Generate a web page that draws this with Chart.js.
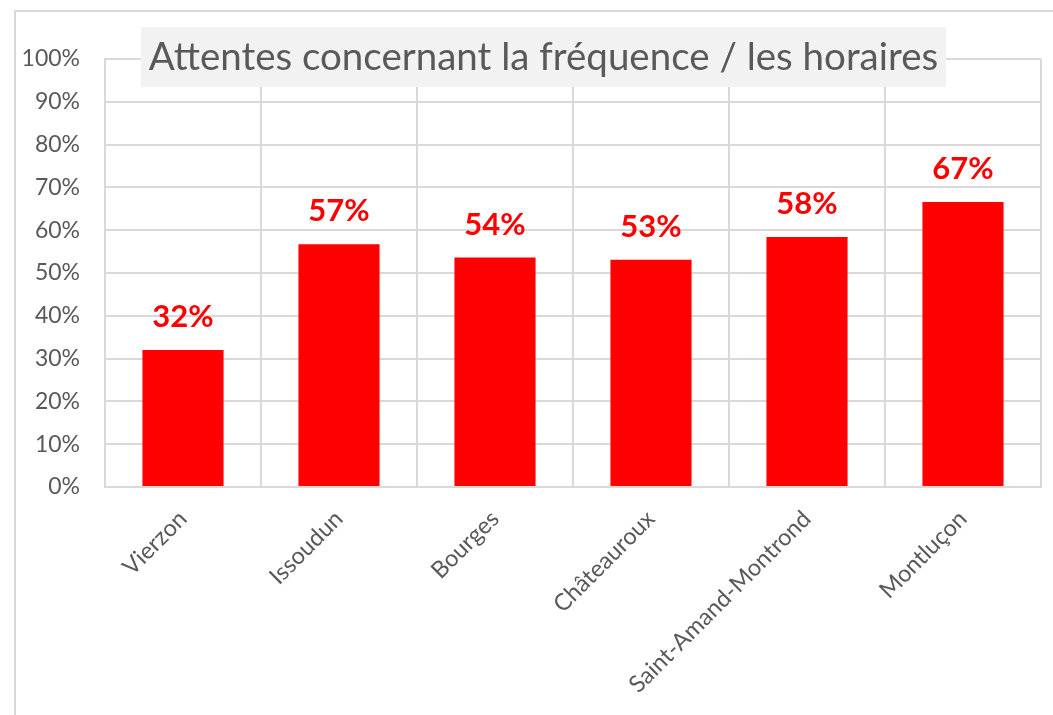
<!DOCTYPE html>
<html>
<head>
<meta charset="utf-8">
<script src="https://cdn.jsdelivr.net/npm/chart.js@4"></script>
<style>
  html, body { margin: 0; padding: 0; background: #fff; overflow: hidden; }
  #wrap { position: relative; width: 1053px; height: 715px; }
  #frame { position: absolute; left: 14px; top: 10px; width: 1100px; height: 800px;
           border-left: 2px solid #d9d9d9; border-top: 2px solid #d9d9d9; box-sizing: border-box; }
  canvas { position: absolute; left: 0; top: 0; }
</style>
</head>
<body>
<div id="wrap">
  <div id="frame"></div>
  <canvas id="chart-1" width="1053" height="715"></canvas>
</div>
<script>
const titleText = "Attentes concernant la fréquence / les horaires";
const villes = ["Vierzon", "Issoudun", "Bourges", "Châteauroux", "Saint-Amand-Montrond", "Montluçon"];
const valeurs = [32.0, 56.7, 53.6, 53.1, 58.4, 66.6];
const yTicks = [0, 10, 20, 30, 40, 50, 60, 70, 80, 90, 100];

const grey = "#595959";
const gridGrey = "#d9d9d9";

// title box sits on top of the grid, under the bars
const titleBox = {
  id: "titleBox",
  beforeDatasetsDraw(chart) {
    const c = chart.ctx;
    c.save();
    c.fillStyle = "#f2f2f2";
    c.fillRect(141, 27, 805, 60);
    c.fillStyle = grey;
    c.font = "38.5px Lato";
    c.textAlign = "center";
    c.textBaseline = "middle";
    c.fillText(titleText, 543.5, 58);
    c.restore();
  }
};

// percentage labels above each bar
const barLabels = {
  id: "barLabels",
  afterDatasetsDraw(chart) {
    const c = chart.ctx;
    const meta = chart.getDatasetMeta(0);
    c.save();
    c.fillStyle = "#ff0000";
    c.font = "bold 31px Lato";
    c.textAlign = "center";
    c.textBaseline = "middle";
    meta.data.forEach((bar, i) => {
      c.fillText(Math.round(valeurs[i]) + "%", bar.x, bar.y - 33);
    });
    c.restore();
  }
};

const ctx1 = document.getElementById("chart-1").getContext("2d");
const myChart = new Chart(ctx1, {
  type: "bar",
  data: {
    labels: villes,
    datasets: [
      {
        data: valeurs,
        backgroundColor: "#ff0000",
        barPercentage: 0.52,
        categoryPercentage: 1,
      },
    ],
  },
  options: {
    responsive: false,
    animation: false,
    layout: { padding: { left: 14, top: 59, right: 12, bottom: 0 } },
    plugins: {
      legend: { display: false },
      tooltip: { enabled: false },
    },
    scales: {
      x: {
        grid: { color: gridGrey, lineWidth: 2, drawTicks: false, offset: true },
        border: { color: gridGrey, width: 2 },
        ticks: {
          color: grey,
          font: { family: "Lato", size: 23.5 },
          minRotation: 45,
          maxRotation: 45,
          padding: 18,
        },
        afterFit(scale) { scale.height = 228; },
      },
      y: {
        min: 0,
        max: 100,
        afterBuildTicks(scale) { scale.ticks = yTicks.map(v => ({ value: v })); },
        grid: { color: gridGrey, lineWidth: 2, drawTicks: false },
        border: { color: gridGrey, width: 2 },
        ticks: {
          color: grey,
          font: { family: "Lato", size: 23 },
          padding: 25,
          callback: v => v + "%",
        },
        afterFit(scale) { scale.width = 91; },
      },
    },
  },
  plugins: [titleBox, barLabels],
});
</script>
</body>
</html>
